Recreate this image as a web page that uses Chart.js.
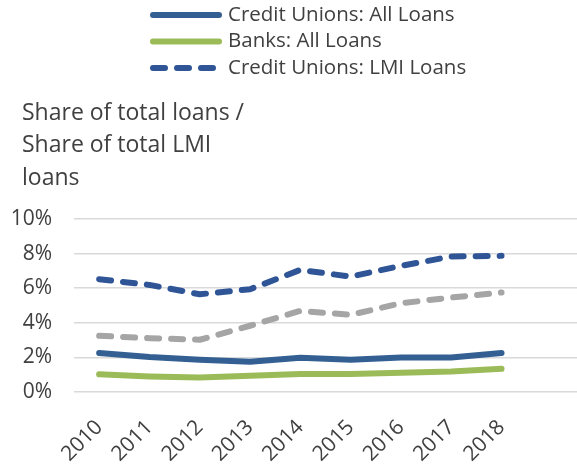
<!DOCTYPE html>
<html lang="en">
<head>
    <meta charset="UTF-8">
    <title>Credit union and bank loan shares</title>
    <script src="https://cdn.jsdelivr.net/npm/chart.js"></script>
    <style>
        html, body {
            margin: 0;
            padding: 0;
            background: #ffffff;
        }
        .chart-box {
            width: 577px;
            height: 470px;
        }
    </style>
</head>
<body>
    <div class="chart-box">
        <canvas id="chartCanvas"></canvas>
    </div>

    <script>
        // values, in percent
        const years = ['2010', '2011', '2012', '2013', '2014', '2015', '2016', '2017', '2018'];
        const cuAllLoans = [2.25, 2.02, 1.86, 1.75, 1.98, 1.86, 2.0, 2.0, 2.25];
        const banksAllLoans = [1.02, 0.9, 0.84, 0.94, 1.04, 1.04, 1.11, 1.19, 1.34];
        const cuLmiLoans = [6.52, 6.19, 5.65, 5.94, 7.06, 6.67, 7.29, 7.83, 7.87];
        const banksLmiLoans = [3.25, 3.11, 3.02, 3.83, 4.69, 4.46, 5.13, 5.46, 5.75];
        const yTicks = [0, 2, 4, 6, 8, 10];
        const titleLines = ['Share of total loans /', 'Share of total LMI', 'loans'];

        const textColor = '#404040';
        Chart.defaults.font.family = "'Open Sans', sans-serif";
        Chart.defaults.color = textColor;

        // the plot keeps room for one more empty slot on the right
        const labels = years.concat(['']);

        // legend column and the axis title sit above the plot
        const header = {
            id: 'header',
            afterDraw(chart) {
                const ctx = chart.ctx;
                const rows = chart.data.datasets.filter(ds => ds.inLegend);
                ctx.save();
                ctx.fillStyle = textColor;
                ctx.textBaseline = 'middle';
                ctx.font = "20.5px 'Open Sans', sans-serif";
                rows.forEach((ds, i) => {
                    const y = 15 + i * 26.5;
                    ctx.beginPath();
                    ctx.strokeStyle = ds.borderColor;
                    ctx.lineWidth = ds.borderWidth;
                    ctx.lineCap = 'round';
                    ctx.setLineDash(ds.borderDash || []);
                    ctx.moveTo(153, y);
                    ctx.lineTo(219, y);
                    ctx.stroke();
                    ctx.setLineDash([]);
                    ctx.fillText(ds.label, 228, y);
                });

                ctx.textBaseline = 'alphabetic';
                ctx.font = "23px 'Open Sans', sans-serif";
                titleLines.forEach((line, i) => {
                    ctx.fillText(line, 22, 120 + i * 32.3);
                });
                ctx.restore();
            }
        };

        new Chart(document.getElementById('chartCanvas'), {
            type: 'line',
            data: {
                labels: labels,
                datasets: [{
                    label: 'Credit Unions: All Loans',
                    data: cuAllLoans,
                    borderColor: '#335F92',
                    borderWidth: 6,
                    inLegend: true
                }, {
                    label: 'Banks: All Loans',
                    data: banksAllLoans,
                    borderColor: '#9BBB59',
                    borderWidth: 6,
                    inLegend: true
                }, {
                    label: 'Credit Unions: LMI Loans',
                    data: cuLmiLoans,
                    borderColor: '#2F5597',
                    borderWidth: 6,
                    borderDash: [12, 12],
                    inLegend: true
                }, {
                    label: 'Banks: LMI Loans',
                    data: banksLmiLoans,
                    borderColor: '#A5A5A5',
                    borderWidth: 6,
                    borderDash: [12, 12],
                    inLegend: false
                }]
            },
            options: {
                responsive: true,
                maintainAspectRatio: false,
                animation: false,
                elements: {
                    point: { radius: 0 },
                    line: { tension: 0, borderCapStyle: 'round', borderJoinStyle: 'round' }
                },
                layout: {
                    padding: { left: 11, right: 0, top: 219, bottom: 0 }
                },
                plugins: {
                    legend: { display: false },
                    tooltip: { enabled: false }
                },
                scales: {
                    x: {
                        offset: true,
                        grid: { display: false },
                        border: { display: false },
                        afterFit: axis => {
                            axis.height = 78;
                            axis.paddingLeft = 0;
                            axis.paddingRight = 0;
                        },
                        ticks: {
                            autoSkip: false,
                            minRotation: 45,
                            maxRotation: 45,
                            padding: 15,
                            font: { size: 21 }
                        }
                    },
                    y: {
                        min: 0,
                        max: 10,
                        afterBuildTicks: axis => {
                            axis.ticks = yTicks.map(v => ({ value: v }));
                        },
                        afterFit: axis => {
                            axis.width = 63;
                        },
                        grid: {
                            color: '#D9D9D9',
                            lineWidth: 1.5,
                            drawTicks: false
                        },
                        border: { display: false },
                        ticks: {
                            padding: 22,
                            font: { size: 21 },
                            callback: v => v + '%'
                        }
                    }
                }
            },
            plugins: [header]
        });
    </script>
</body>
</html>
